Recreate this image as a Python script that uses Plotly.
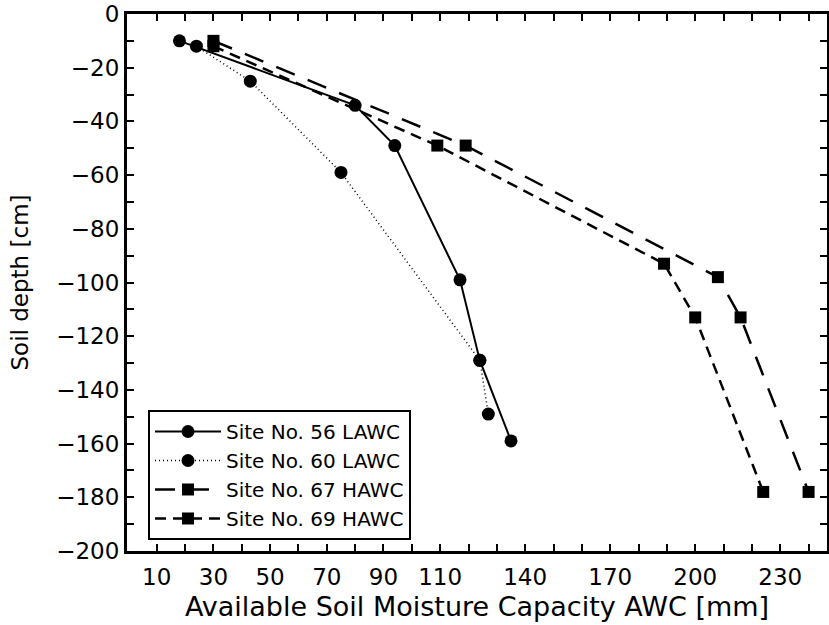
import plotly.graph_objects as go

# ---- data ----
site56_awc = [18, 80, 94, 117, 124, 135]
site56_depth = [-10, -34, -49, -99, -129, -159]
site60_awc = [24, 43, 75, 124, 127]
site60_depth = [-12, -25, -59, -129, -149]
site67_awc = [30, 119, 208, 216, 240]
site67_depth = [-10, -49, -98, -113, -178]
site69_awc = [30, 109, 189, 200, 224]
site69_depth = [-12, -49, -93, -113, -178]

x_tick_vals = list(range(10, 241, 10))
x_labelled = [10, 30, 50, 70, 90, 110, 140, 170, 200, 230]
y_tick_vals = list(range(-200, 1, 10))
y_labelled = list(range(-200, 1, 20))

series = [
    ("Site No. 56 LAWC", site56_awc, site56_depth, "circle", 13, "solid", 2),
    ("Site No. 60 LAWC", site60_awc, site60_depth, "circle", 13, "1px,3px", 1.5),
    ("Site No. 67 HAWC", site67_awc, site67_depth, "square", 12, "20px,14px", 2.5),
    ("Site No. 69 HAWC", site69_awc, site69_depth, "square", 12, "11px,7px", 2.5),
]

FONT = "DejaVu Sans"

fig = go.Figure()
for name, xs, ys, sym, msize, dash, lw in series:
    fig.add_trace(go.Scatter(
        x=xs, y=ys, name=name, mode="lines+markers",
        line=dict(color="black", width=lw, dash=dash),
        marker=dict(symbol=sym, size=msize, color="black"),
    ))

fig.update_layout(
    width=829, height=625,
    margin=dict(l=127, r=2, t=14, b=74),
    paper_bgcolor="white", plot_bgcolor="white",
    font=dict(family=FONT, color="black", size=22),
    showlegend=True,
    legend=dict(
        x=0.03, y=0.2626, xanchor="left", yanchor="top",
        bgcolor="white", bordercolor="black", borderwidth=2,
        font=dict(family=FONT, size=20, color="black"),
        tracegroupgap=0, itemwidth=66,
    ),
)

fig.update_xaxes(
    range=[-0.5, 246.5], automargin=False,
    tickmode="array", tickvals=x_tick_vals,
    ticktext=[str(v) if v in x_labelled else "" for v in x_tick_vals],
    ticks="inside", ticklen=7, tickwidth=2, tickcolor="black",
    showline=True, linewidth=3, linecolor="black", mirror="ticks",
    showgrid=False, zeroline=False, ticklabelstandoff=3,
    ticklabeloverflow="allow",
    tickfont=dict(family=FONT, size=23, color="black"),
    title=dict(text="Available Soil Moisture Capacity AWC [mm]",
               font=dict(family=FONT, size=27, color="black"), standoff=9),
)

fig.update_yaxes(
    range=[-200, 0], automargin=False,
    tickmode="array", tickvals=y_tick_vals,
    ticktext=[(("\u2212" + str(-v)) if v < 0 else "0") if v in y_labelled else "" for v in y_tick_vals],
    ticks="inside", ticklen=7, tickwidth=2, tickcolor="black",
    showline=True, linewidth=3, linecolor="black", mirror="ticks",
    showgrid=False, zeroline=False, ticklabeloverflow="allow",
    tickfont=dict(family=FONT, size=23, color="black"),
    title=dict(text="Soil depth [cm]",
               font=dict(family=FONT, size=23, color="black"), standoff=22),
)

fig.write_html(
    "out.html",
    config={"displayModeBar": False},
    post_script="document.body.style.margin='0';document.body.style.overflow='hidden';",
)
